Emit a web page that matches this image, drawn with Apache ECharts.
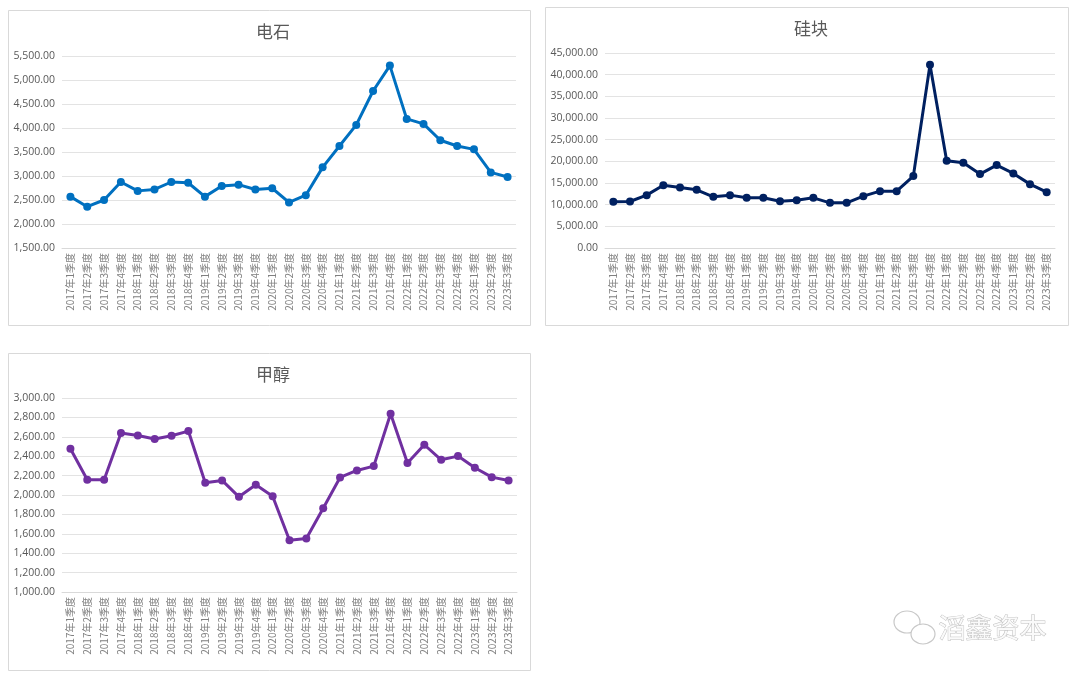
<!DOCTYPE html>
<html>
<head>
<meta charset="utf-8">
<script src="https://cdn.jsdelivr.net/npm/echarts@6/dist/echarts.min.js"></script>
<style>
  html, body { margin: 0; padding: 0; background: #fff; }
  #main { width: 1080px; height: 679px; }
</style>
</head>
<body>
<div id="main"></div>
<script>
// quarters 2017Q1 .. 2023Q3
let quarters = [];
for (let y = 2017; y <= 2023; y++) {
  for (let q = 1; q <= 4; q++) {
    if (y === 2023 && q > 3) break;
    quarters.push(y + '年' + q + '季度');
  }
}

// 电石
let calciumCarbide = [2570, 2360, 2500, 2875, 2690, 2720, 2875, 2860, 2570, 2790, 2820, 2720,
  2745, 2450, 2600, 3180, 3625, 4065, 4770, 5300, 4190, 4085, 3745, 3625, 3555, 3075, 2980];
// 硅块
let siliconBlock = [10650, 10730, 12200, 14500, 13970, 13430, 11810, 12200, 11580, 11580, 10810, 11040,
  11580, 10420, 10420, 11960, 13120, 13120, 16590, 42300, 20150, 19680, 17060, 19140, 17210, 14740, 12890];
// 甲醇
let methanol = [2477, 2157, 2157, 2639, 2614, 2577, 2611, 2659, 2126, 2150, 1981, 2105,
  1988, 1534, 1551, 1864, 2181, 2253, 2298, 2838, 2329, 2518, 2363, 2401, 2281, 2184, 2150];

let chart = echarts.init(document.getElementById('main'));

function fmt(v) {
  let parts = v.toFixed(2).split('.');
  parts[0] = parts[0].replace(/\B(?=(\d{3})+(?!\d))/g, ',');
  return parts.join('.');
}

let grids = [
  { left: 62, top: 56, width: 454, height: 192 },
  { left: 605, top: 53, width: 450, height: 195 },
  { left: 62, top: 398, width: 455, height: 194 }
];

function xAxis(i) {
  return {
    type: 'category',
    gridIndex: i,
    data: quarters,
    axisTick: { show: false },
    axisLine: { lineStyle: { color: '#d9d9d9' } },
    axisLabel: {
      interval: 0,
      rotate: 90,
      fontSize: 10,
      color: '#7f7f7f',
      margin: 5,
      fontFamily: 'Noto Sans CJK SC'
    }
  };
}

function yAxis(i, min, max, interval) {
  return {
    type: 'value',
    gridIndex: i,
    min: min,
    max: max,
    interval: interval,
    axisLine: { show: false },
    axisTick: { show: false },
    splitLine: { lineStyle: { color: '#e3e3e3' } },
    axisLabel: {
      fontSize: 10.5,
      color: '#595959',
      margin: 7,
      fontFamily: 'Open Sans',
      formatter: fmt
    }
  };
}

function lineSeries(i, data, color) {
  return {
    type: 'line',
    xAxisIndex: i,
    yAxisIndex: i,
    data: data,
    symbol: 'circle',
    symbolSize: 8,
    lineStyle: { width: 3, color: color },
    itemStyle: { color: color }
  };
}

let titleStyle = { fontSize: 17, fontWeight: 'normal', color: '#595959', fontFamily: 'Noto Sans CJK SC' };

let option = {
  backgroundColor: '#fff',
  animation: false,
  title: [
    { text: '电石', left: 268, top: 18, textAlign: 'center', textStyle: titleStyle },
    { text: '硅块', left: 806, top: 15, textAlign: 'center', textStyle: titleStyle },
    { text: '甲醇', left: 268, top: 361, textAlign: 'center', textStyle: titleStyle }
  ],
  grid: grids,
  xAxis: [xAxis(0), xAxis(1), xAxis(2)],
  yAxis: [
    yAxis(0, 1500, 5500, 500),
    yAxis(1, 0, 45000, 5000),
    yAxis(2, 1000, 3000, 200)
  ],
  series: [
    lineSeries(0, calciumCarbide, '#0070c0'),
    lineSeries(1, siliconBlock, '#002060'),
    lineSeries(2, methanol, '#7030a0')
  ],
  graphic: [
    { type: 'rect', shape: { x: 8.5, y: 10.5, width: 522, height: 315 }, style: { fill: 'none', stroke: '#d9d9d9' }, silent: true },
    { type: 'rect', shape: { x: 545.5, y: 7.5, width: 523, height: 318 }, style: { fill: 'none', stroke: '#d9d9d9' }, silent: true },
    { type: 'rect', shape: { x: 8.5, y: 353.5, width: 522, height: 317 }, style: { fill: 'none', stroke: '#d9d9d9' }, silent: true },
    // watermark
    { type: 'ellipse', shape: { cx: 907, cy: 622, rx: 13, ry: 11 }, style: { fill: '#fff', stroke: '#c8c8c8', lineWidth: 1.2 }, silent: true },
    { type: 'ellipse', shape: { cx: 923, cy: 634, rx: 12, ry: 10 }, style: { fill: '#fff', stroke: '#c8c8c8', lineWidth: 1.2 }, silent: true },
    {
      type: 'text',
      left: 938,
      top: 614,
      silent: true,
      style: {
        text: '滔鑫资本',
        fontSize: 27,
        fontFamily: 'Noto Sans CJK SC',
        fill: '#fafafa',
        stroke: '#c0c0c0',
        lineWidth: 1
      }
    }
  ]
};

chart.setOption(option);
</script>
</body>
</html>
